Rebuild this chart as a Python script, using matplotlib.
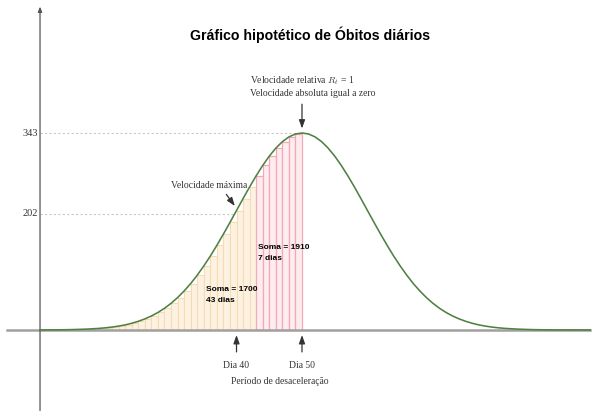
import numpy as np
import matplotlib
matplotlib.use("Agg")
import matplotlib.pyplot as plt

plt.rcParams['mathtext.fontset'] = 'cm'

# ---- data ----
days = list(range(10, 95))
deaths = [0.1, 0.15, 0.2, 0.35, 0.5, 0.75, 1.1, 1.5, 2.1, 2.8,
          3.8, 5.1, 6.8, 8.9, 11.7, 15.1, 19.3, 24.4, 30.5, 37.8,
          46.4, 56.4, 67.9, 80.8, 95.4, 111.4, 128.7, 147.4, 167.0, 187.3,
          208.0, 228.8, 249.1, 268.5, 286.5, 302.7, 316.6, 327.9, 336.2, 341.3,
          343.0,
          341.3, 336.2, 327.9, 316.6, 302.7, 286.5, 268.5, 249.1, 228.8, 208.0,
          187.3, 167.0, 147.4, 128.7, 111.4, 95.4, 80.8, 67.9, 56.4, 46.4,
          37.8, 30.5, 24.4, 19.3, 15.1, 11.7, 8.9, 6.8, 5.1, 3.8,
          2.8, 2.1, 1.5, 1.1, 0.75, 0.5, 0.35, 0.2, 0.15, 0.1,
          0.07, 0.05, 0.03, 0.02]
ytick_values = [343, 202]
ytick_labels = ["343", "202"]
day_split = 43      # start of the 7-day (pink) block
day_peak = 50
title = "Gráfico hipotético de Óbitos diários"

val = dict(zip(days, deaths))

fig = plt.figure(figsize=(6, 4.2), dpi=100)
ax = fig.add_axes([0, 0, 1, 1])
ax.set_xlim(3.89, 95.5)
ax.set_ylim(-156.7, 574.6)
ax.axis('off')

serif = ['Liberation Serif', 'DejaVu Serif']
tcol = '#333333'
fs = 6.9

# bars (left Riemann sums)
orange_days = [d for d in days if d < day_split]
pink_days = [d for d in days if day_split <= d < day_peak]
ax.bar(orange_days, [val[d] for d in orange_days], width=1, align='edge',
       color='#fdf2e2', edgecolor='#f7dbb5', linewidth=0.8, zorder=1)
ax.bar(pink_days, [val[d] for d in pink_days], width=1, align='edge',
       color='#fdedf0', edgecolor='#f5a8b8', linewidth=0.9, zorder=1)

# dotted reference lines
ax.plot([10, day_peak], [ytick_values[0]] * 2, ls=(0, (2, 2)), color='#c8c8c8', lw=0.8, zorder=0)
ax.plot([10, 39.7], [ytick_values[1]] * 2, ls=(0, (2, 2)), color='#c8c8c8', lw=0.8, zorder=0)

# axes lines
ax.plot([4.9, days[-1]], [0, 0], color='#a0a0a0', lw=1.8, zorder=2)
ax.annotate('', xy=(10, 568), xytext=(10, -145),
            arrowprops=dict(arrowstyle='-|>,head_length=0.3,head_width=0.12',
                            color='#555555', lw=0.9), zorder=3)

# curve
ax.plot(days, deaths, color='#4f8043', lw=1.15, zorder=4)

# y tick labels
for v, lab in zip(ytick_values, ytick_labels):
    ax.text(9.7, v, lab, ha='right', va='center', fontsize=7.5, family=serif, color=tcol)

# title
ax.text(0.517, 0.917, title, transform=ax.transAxes, ha='center', va='center',
        fontsize=10.2, fontweight='bold', family=['Liberation Sans', 'DejaVu Sans'])

arrow_kw = dict(arrowstyle='-|>,head_length=0.5,head_width=0.18', color=tcol, lw=0.9)

# peak annotation
ax.text(42.1, 434, 'Velocidade relativa $R_t$ = 1', ha='left', va='center',
        fontsize=fs, family=serif, color=tcol)
ax.text(42.1, 412, 'Velocidade absoluta igual a zero', ha='left', va='center',
        fontsize=fs, family=serif, color=tcol)
ax.annotate('', xy=(day_peak, 346), xytext=(day_peak, 398), arrowprops=arrow_kw)

# inflection annotation
ax.text(41.7, 252, 'Velocidade máxima', ha='right', va='center',
        fontsize=fs, family=serif, color=tcol)
ax.annotate('', xy=(40.0, 212), xytext=(38.2, 240), arrowprops=arrow_kw)

# day arrows
ax.annotate('', xy=(40, -4), xytext=(40, -43), arrowprops=arrow_kw)
ax.annotate('', xy=(day_peak, -4), xytext=(day_peak, -43), arrowprops=arrow_kw)
ax.text(40, -62, 'Dia 40', ha='center', va='center', fontsize=fs, family=serif, color=tcol)
ax.text(day_peak, -62, 'Dia 50', ha='center', va='center', fontsize=fs, family=serif, color=tcol)
ax.text(46.6, -89, 'Período de desaceleração', ha='center', va='center',
        fontsize=fs, family=serif, color=tcol)

# sums
sans = ['Liberation Sans', 'DejaVu Sans']
ax.text(35.4, 71, 'Soma = 1700', ha='left', va='center', fontsize=6, fontweight='bold', family=sans)
ax.text(35.4, 52, '43 dias', ha='left', va='center', fontsize=6, fontweight='bold', family=sans)
ax.text(43.3, 143, 'Soma = 1910', ha='left', va='center', fontsize=6, fontweight='bold', family=sans)
ax.text(43.3, 124, '7 dias', ha='left', va='center', fontsize=6, fontweight='bold', family=sans)

fig.savefig('out.png', dpi=100)
